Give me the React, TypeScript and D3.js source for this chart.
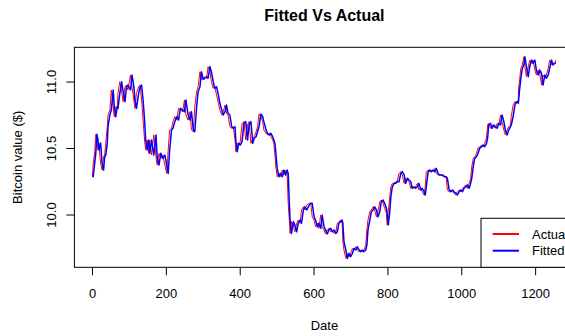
import React from "react";
import * as d3 from "d3";

const title = "Fitted Vs Actual";
const xLabel = "Date";
const yLabel = "Bitcoin value ($)";
const xTicks = [0, 200, 400, 600, 800, 1000, 1200];
const yTicks = [10.0, 10.5, 11.0];
const legendLabels = ["Actual", "Fitted"];
const seriesColors = ["#ff0000", "#0000ff"];

const dates = [0,2,6,9,12,15,17,22,26,30,33,36,40,42,47,51,56,59,63,67,69,74,79,83,88,92,96,103,107,112,115,119,125,129,133,137,141,144,148,152,155,160,166,172,175,180,185,190,196,201,205,209,214,218,223,228,233,238,244,249,253,259,264,268,273,277,282,286,291,295,300,304,309,313,318,322,327,331,336,341,345,350,354,359,363,367,372,377,381,386,388,392,396,400,405,410,415,420,424,429,434,438,443,447,451,456,461,464,470,474,479,483,488,491,494,497,500,505,509,514,518,523,527,530,533,535,539,544,548,553,557,562,566,571,575,580,587,591,595,600,604,609,613,618,622,627,631,636,640,645,649,654,659,663,667,672,676,678,681,686,690,695,699,704,708,713,717,722,726,731,735,740,743,746,751,755,760,764,769,773,778,782,787,791,796,798,801,805,808,812,817,821,825,830,835,839,844,848,853,857,862,866,871,875,880,884,889,893,898,901,904,909,913,918,922,927,931,936,940,945,949,954,958,961,966,970,975,979,984,988,993,997,1002,1006,1011,1015,1020,1024,1027,1031,1035,1040,1044,1049,1053,1058,1062,1067,1070,1073,1078,1082,1087,1091,1096,1100,1105,1109,1114,1118,1123,1127,1132,1134,1139,1144,1148,1153,1154,1157,1160,1164,1168,1171,1175,1180,1184,1189,1193,1198,1202,1207,1211,1216,1220,1225,1229,1234,1238,1243,1247,1252,1255];

const actual = [10.288,10.391,10.466,10.607,10.564,10.489,10.541,10.389,10.338,10.438,10.451,10.541,10.664,10.752,10.789,10.940,10.814,10.739,10.814,10.802,10.915,11.002,10.927,10.852,10.965,10.977,10.940,11.053,10.965,10.865,10.802,10.915,10.965,10.977,10.865,10.714,10.564,10.489,10.564,10.464,10.564,10.451,10.602,10.438,10.376,10.464,10.426,10.451,10.376,10.313,10.489,10.639,10.652,10.702,10.739,10.714,10.802,10.789,10.777,10.865,10.752,10.714,10.777,10.639,10.626,10.814,10.927,10.965,11.077,11.020,11.028,11.040,11.028,11.115,11.077,11.002,10.953,10.965,10.902,10.840,10.789,10.752,10.777,10.827,10.765,10.752,10.664,10.652,10.664,10.564,10.476,10.539,10.526,10.551,10.689,10.702,10.564,10.677,10.702,10.539,10.577,10.589,10.626,10.664,10.759,10.739,10.702,10.639,10.614,10.602,10.614,10.589,10.564,10.539,10.451,10.351,10.288,10.313,10.288,10.338,10.301,10.338,10.313,10.088,9.962,9.862,9.950,9.925,9.874,9.938,9.962,9.938,10.038,10.062,10.038,10.075,10.088,10.088,9.987,9.962,9.912,9.938,9.900,10.000,9.912,9.888,9.857,9.888,9.900,9.874,9.888,9.862,9.874,9.938,9.950,9.962,9.938,9.799,9.737,9.674,9.712,9.687,9.712,9.749,9.737,9.762,9.737,9.724,9.737,9.724,9.737,9.774,9.888,9.962,10.025,10.038,10.062,10.038,9.987,10.025,10.100,10.113,10.088,10.050,10.013,9.925,10.025,10.138,10.213,10.238,10.238,10.250,10.250,10.313,10.326,10.301,10.238,10.276,10.263,10.250,10.201,10.213,10.201,10.213,10.238,10.188,10.201,10.175,10.150,10.213,10.326,10.338,10.326,10.338,10.326,10.351,10.313,10.301,10.301,10.301,10.288,10.288,10.276,10.188,10.175,10.188,10.175,10.163,10.150,10.175,10.188,10.175,10.201,10.213,10.226,10.201,10.238,10.276,10.363,10.426,10.438,10.464,10.504,10.511,10.526,10.513,10.539,10.579,10.677,10.689,10.652,10.677,10.664,10.652,10.689,10.677,10.752,10.702,10.639,10.602,10.639,10.664,10.677,10.739,10.827,10.852,10.840,10.865,10.953,11.028,11.103,11.128,11.190,11.115,11.040,11.115,11.165,11.141,11.165,11.090,11.053,11.090,11.065,10.977,11.053,11.028,11.053,11.103,11.165,11.128,11.141,11.141,11.165];

const fitted = [10.288,10.288,10.391,10.466,10.607,10.564,10.489,10.541,10.389,10.338,10.438,10.451,10.541,10.664,10.752,10.789,10.940,10.814,10.739,10.814,10.802,10.915,11.002,10.927,10.852,10.965,10.977,10.940,11.053,10.965,10.865,10.802,10.915,10.965,10.977,10.865,10.714,10.564,10.489,10.564,10.464,10.564,10.451,10.602,10.438,10.376,10.464,10.426,10.451,10.376,10.313,10.489,10.639,10.652,10.702,10.739,10.714,10.802,10.789,10.777,10.865,10.752,10.714,10.777,10.639,10.626,10.814,10.927,10.965,11.077,11.020,11.028,11.040,11.028,11.115,11.077,11.002,10.953,10.965,10.902,10.840,10.789,10.752,10.777,10.827,10.765,10.752,10.664,10.652,10.664,10.564,10.476,10.539,10.526,10.551,10.689,10.702,10.564,10.677,10.702,10.539,10.577,10.589,10.626,10.664,10.759,10.739,10.702,10.639,10.614,10.602,10.614,10.589,10.564,10.539,10.451,10.351,10.288,10.313,10.288,10.338,10.301,10.338,10.313,10.088,9.962,9.862,9.950,9.925,9.874,9.938,9.962,9.938,10.038,10.062,10.038,10.075,10.088,10.088,9.987,9.962,9.912,9.938,9.900,10.000,9.912,9.888,9.857,9.888,9.900,9.874,9.888,9.862,9.874,9.938,9.950,9.962,9.938,9.799,9.737,9.674,9.712,9.687,9.712,9.749,9.737,9.762,9.737,9.724,9.737,9.724,9.737,9.774,9.888,9.962,10.025,10.038,10.062,10.038,9.987,10.025,10.100,10.113,10.088,10.050,10.013,9.925,10.025,10.138,10.213,10.238,10.238,10.250,10.250,10.313,10.326,10.301,10.238,10.276,10.263,10.250,10.201,10.213,10.201,10.213,10.238,10.188,10.201,10.175,10.150,10.213,10.326,10.338,10.326,10.338,10.326,10.351,10.313,10.301,10.301,10.301,10.288,10.288,10.276,10.188,10.175,10.188,10.175,10.163,10.150,10.175,10.188,10.175,10.201,10.213,10.226,10.201,10.238,10.276,10.363,10.426,10.438,10.464,10.504,10.511,10.526,10.513,10.539,10.579,10.677,10.689,10.652,10.677,10.664,10.652,10.689,10.677,10.752,10.702,10.639,10.602,10.639,10.664,10.677,10.739,10.827,10.852,10.840,10.865,10.953,11.028,11.103,11.128,11.190,11.115,11.040,11.115,11.165,11.141,11.165,11.090,11.053,11.090,11.065,10.977,11.053,11.028,11.053,11.103,11.165,11.128,11.141,11.141];

const W = 565;
const H = 336;
const FONT = "'Liberation Sans', Arial, Helvetica, sans-serif";

export default function App() {
  const left = 74.4, right = 574.4, top = 47.3, bottom = 267.3;
  const x = d3.scaleLinear().domain([-49, 1305]).range([left, right]);
  const y = d3.scaleLinear().domain([9.607, 11.261]).range([bottom, top]);

  const mk = (vals: number[]) =>
    d3
      .line<number>()
      .x((_, i) => x(dates[i]))
      .y((v) => y(v))(vals) || "";

  const tickLen = 8;
  const legX = 481, legY = 218.3;

  return (
    <svg
      width={W}
      height={H}
      style={{ position: "absolute", left: 0, top: 0, display: "block", background: "#fff" }}
      fontFamily={FONT}
    >
      <rect x={0} y={0} width={W} height={H} fill="#fff" />
      <defs>
        <clipPath id="plotclip">
          <rect x={left} y={top} width={right - left} height={bottom - top} />
        </clipPath>
      </defs>
      <text x={(left + right) / 2} y={21} textAnchor="middle" fontSize={16} fontWeight="bold" fill="#000">
        {title}
      </text>

      <g clipPath="url(#plotclip)">
        <path d={mk(actual)} fill="none" stroke={seriesColors[0]} strokeWidth={1} strokeLinejoin="round" />
        <path d={mk(fitted)} fill="none" stroke={seriesColors[1]} strokeWidth={1.5} strokeLinejoin="round" />
      </g>

      <rect x={left} y={top} width={right - left} height={bottom - top} fill="none" stroke="#000" strokeWidth={1} />

      {xTicks.map((t) => (
        <g key={"x" + t}>
          <line x1={x(t)} x2={x(t)} y1={bottom} y2={bottom + tickLen} stroke="#000" strokeWidth={1} />
          <text x={x(t)} y={298} textAnchor="middle" fontSize={13} fill="#000">
            {t}
          </text>
        </g>
      ))}

      {yTicks.map((t) => (
        <g key={"y" + t}>
          <line x1={left - tickLen} x2={left} y1={y(t)} y2={y(t)} stroke="#000" strokeWidth={1} />
          <text
            transform={`translate(56,${y(t)}) rotate(-90)`}
            textAnchor="middle"
            fontSize={13}
            fill="#000"
          >
            {t.toFixed(1)}
          </text>
        </g>
      ))}

      <text x={(left + right) / 2} y={330} textAnchor="middle" fontSize={13} fill="#000">
        {xLabel}
      </text>
      <text transform={`translate(22,${(top + bottom) / 2}) rotate(-90)`} textAnchor="middle" fontSize={13} fill="#000">
        {yLabel}
      </text>

      <rect x={legX} y={legY} width={right - legX} height={bottom - legY} fill="#fff" stroke="#000" strokeWidth={1} />
      {legendLabels.map((lab, i) => (
        <g key={lab}>
          <line x1={492.7} x2={519} y1={234 + i * 16.7} y2={234 + i * 16.7} stroke={seriesColors[i]} strokeWidth={2} />
          <text x={532} y={238.7 + i * 16.7} fontSize={13} fill="#000">
            {lab}
          </text>
        </g>
      ))}
    </svg>
  );
}
